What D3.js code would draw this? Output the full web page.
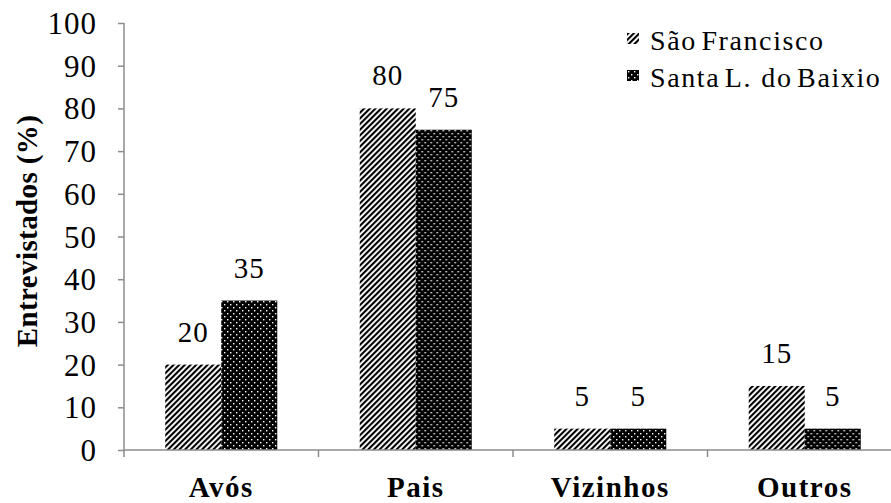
<!DOCTYPE html>
<html>
<head>
<meta charset="utf-8">
<script src="https://cdn.jsdelivr.net/npm/d3@7"></script>
<style>
  #chart text { font-family: "Liberation Serif", "Times New Roman", Tinos, serif !important; }
</style>
</head>
<body style="margin:0">
<svg id="chart" width="891" height="503"></svg>
<script>
// Who taught the interviewees, by community (% of respondents)
const categories = ["Avós", "Pais", "Vizinhos", "Outros"];
const seriesNames = ["São Francisco", "Santa L.  do Baixio"];
const saoFrancisco = [20, 80, 5, 15];
const santaLuzia = [35, 75, 5, 5];
const yTicks = [0, 10, 20, 30, 40, 50, 60, 70, 80, 90, 100];
const yTitle = "Entrevistados (%)";

const series = [saoFrancisco, santaLuzia];
const FONT = "\"Liberation Serif\", \"Times New Roman\", serif";
const svg = d3.select("#chart");
const W = 891, H = 503;
const plotLeft = 124, plotRight = 902, plotTop = 23, plotBottom = 450;
const axisColor = "#8c8c8c";

// fill patterns: diagonal hatching and black with white dots
const defs = svg.append("defs");
const hatch = defs.append("pattern")
  .attr("id", "hatch").attr("patternUnits", "userSpaceOnUse")
  .attr("width", 4).attr("height", 4)
  .attr("patternTransform", "rotate(45)");
hatch.append("rect").attr("width", 4).attr("height", 4).attr("fill", "#fff");
hatch.append("rect").attr("x", 0).attr("width", 2.1).attr("height", 4).attr("fill", "#000");

const dots = defs.append("pattern")
  .attr("id", "dots").attr("patternUnits", "userSpaceOnUse")
  .attr("width", 6).attr("height", 6);
dots.append("rect").attr("width", 6).attr("height", 6).attr("fill", "#000");
dots.append("rect").attr("x", 1).attr("y", 1).attr("width", 1.4).attr("height", 1.4).attr("fill", "#fff");
dots.append("rect").attr("x", 4).attr("y", 4).attr("width", 1.4).attr("height", 1.4).attr("fill", "#fff");

const fills = ["url(#hatch)", "url(#dots)"];

const x = d3.scaleBand().domain(categories).range([plotLeft, plotRight]).padding(0);
const xInner = d3.scaleBand().domain([0, 1]).range([0, x.bandwidth()]).paddingInner(0).paddingOuter(0.736);
const y = d3.scaleLinear().domain([0, 100]).range([plotBottom, plotTop]);

// bars
const groups = svg.append("g").selectAll("g")
  .data(categories).join("g")
  .attr("transform", d => `translate(${x(d)},0)`);

groups.selectAll("rect")
  .data((d, i) => series.map((s, k) => ({ k, v: s[i] })))
  .join("rect")
  .attr("x", d => xInner(d.k))
  .attr("y", d => y(d.v))
  .attr("width", xInner.bandwidth())
  .attr("height", d => y(0) - y(d.v))
  .attr("fill", d => fills[d.k]);

// value labels
groups.selectAll("text.val")
  .data((d, i) => series.map((s, k) => ({ k, v: s[i] })))
  .join("text")
  .attr("class", "val")
  .attr("x", d => xInner(d.k) + xInner.bandwidth() / 2)
  .attr("y", d => y(d.v) - 23)
  .attr("text-anchor", "middle")
  .attr("font-family", FONT)
  .attr("font-size", 29)
  .attr("letter-spacing", 1)
  .text(d => d.v);

// y axis
const yAxis = svg.append("g")
  .attr("transform", `translate(${plotLeft},0)`)
  .call(d3.axisLeft(y).tickValues(yTicks).tickSize(6).tickPadding(21).tickSizeOuter(0));
yAxis.attr("font-family", FONT).attr("font-size", 31);
yAxis.select(".domain").attr("stroke", axisColor).attr("stroke-width", 1.5)
  .attr("d", `M0,${plotTop}V${plotBottom + 7}`);
yAxis.selectAll(".tick line").attr("stroke", axisColor).attr("stroke-width", 1.5);
yAxis.selectAll(".tick text").attr("fill", "#000").attr("dy", "0.34em").attr("letter-spacing", 1);

// x axis
const xAxis = svg.append("g")
  .attr("transform", `translate(0,${plotBottom})`)
  .call(d3.axisBottom(x).tickSize(0).tickPadding(0).tickSizeOuter(0));
xAxis.select(".domain").attr("stroke", axisColor).attr("stroke-width", 1.5)
  .attr("d", `M${plotLeft},0H${W}`);
xAxis.selectAll(".tick text").remove();
xAxis.selectAll(".tick line").remove();
xAxis.selectAll("line.sep")
  .data(categories.slice(1))
  .join("line")
  .attr("class", "sep")
  .attr("x1", d => x(d)).attr("x2", d => x(d))
  .attr("y1", 0).attr("y2", 7)
  .attr("stroke", axisColor).attr("stroke-width", 1.5);

// category labels
svg.append("g").selectAll("text")
  .data(categories).join("text")
  .attr("x", d => x(d) + x.bandwidth() / 2)
  .attr("y", 497)
  .attr("text-anchor", "middle")
  .attr("font-family", FONT)
  .attr("font-size", 29)
  .attr("font-weight", "bold")
  .attr("letter-spacing", 1.5)
  .text(d => d);

// y axis title
svg.append("text")
  .attr("transform", "translate(37,231) rotate(-90)")
  .attr("text-anchor", "middle")
  .attr("font-family", FONT)
  .attr("font-size", 29)
  .attr("font-weight", "bold")
  .attr("letter-spacing", 0.4)
  .text(yTitle);

// legend
const legend = svg.append("g").selectAll("g")
  .data(seriesNames).join("g")
  .attr("transform", (d, i) => `translate(627,${33 + i * 37})`);
legend.append("rect")
  .attr("width", 12).attr("height", 11)
  .attr("fill", (d, i) => fills[i]);
legend.append("text")
  .attr("x", 23).attr("y", 17)
  .attr("font-family", FONT)
  .attr("font-size", 28)
  .attr("letter-spacing", 1.6)
  .attr("word-spacing", -4)
  .style("white-space", "pre")
  .text(d => d);
</script>
</body>
</html>
